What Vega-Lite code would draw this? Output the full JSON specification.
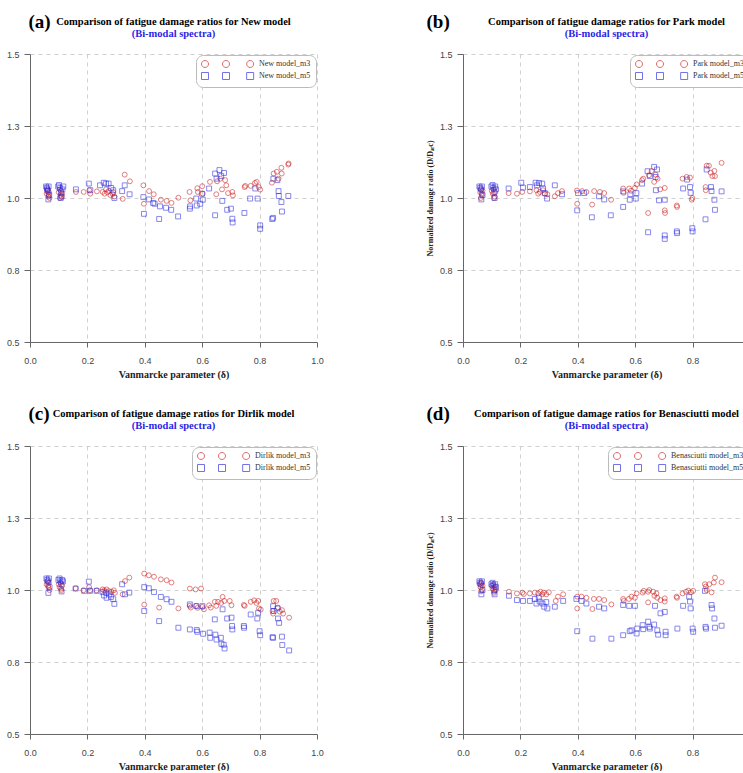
{
  "$schema": "https://vega.github.io/schema/vega-lite/v6.json",
  "background": "white",
  "padding": {"left": 6, "top": 13, "right": 0, "bottom": 0},
  "datasets": {
    "a": [
      {"x":0.058,"y":1.015,"s":"m3"},{"x":0.061,"y":1.025,"s":"m3"},{"x":0.064,"y":1.005,"s":"m3"},{"x":0.066,"y":1.02,"s":"m3"},{"x":0.068,"y":1.0,"s":"m3"},{"x":0.062,"y":1.03,"s":"m3"},{"x":0.065,"y":1.012,"s":"m3"},
      {"x":0.1,"y":1.02,"s":"m3"},{"x":0.103,"y":1.03,"s":"m3"},{"x":0.106,"y":1.01,"s":"m3"},{"x":0.108,"y":1.025,"s":"m3"},{"x":0.11,"y":1.005,"s":"m3"},{"x":0.112,"y":1.015,"s":"m3"},{"x":0.104,"y":1.0,"s":"m3"},
      {"x":0.16,"y":1.021,"s":"m3"},{"x":0.187,"y":1.021,"s":"m3"},{"x":0.207,"y":1.027,"s":"m3"},{"x":0.21,"y":1.015,"s":"m3"},{"x":0.233,"y":1.023,"s":"m3"},{"x":0.253,"y":1.021,"s":"m3"},{"x":0.26,"y":1.015,"s":"m3"},{"x":0.265,"y":1.03,"s":"m3"},{"x":0.27,"y":1.02,"s":"m3"},{"x":0.275,"y":1.025,"s":"m3"},{"x":0.28,"y":1.01,"s":"m3"},{"x":0.288,"y":1.014,"s":"m3"},{"x":0.29,"y":1.02,"s":"m3"},{"x":0.294,"y":1.005,"s":"m3"},
      {"x":0.323,"y":0.997,"s":"m3"},{"x":0.33,"y":1.081,"s":"m3"},{"x":0.348,"y":1.058,"s":"m3"},{"x":0.395,"y":1.044,"s":"m3"},{"x":0.397,"y":0.98,"s":"m3"},{"x":0.415,"y":1.024,"s":"m3"},{"x":0.431,"y":1.013,"s":"m3"},{"x":0.456,"y":0.994,"s":"m3"},{"x":0.476,"y":0.99,"s":"m3"},{"x":0.493,"y":0.983,"s":"m3"},{"x":0.517,"y":1.001,"s":"m3"},
      {"x":0.556,"y":1.021,"s":"m3"},{"x":0.559,"y":0.992,"s":"m3"},{"x":0.583,"y":1.034,"s":"m3"},{"x":0.585,"y":1.021,"s":"m3"},{"x":0.6,"y":1.041,"s":"m3"},{"x":0.602,"y":1.015,"s":"m3"},{"x":0.627,"y":1.056,"s":"m3"},{"x":0.649,"y":1.013,"s":"m3"},{"x":0.652,"y":1.058,"s":"m3"},{"x":0.663,"y":1.067,"s":"m3"},{"x":0.669,"y":1.03,"s":"m3"},{"x":0.68,"y":1.062,"s":"m3"},{"x":0.684,"y":1.044,"s":"m3"},{"x":0.69,"y":1.017,"s":"m3"},{"x":0.705,"y":1.021,"s":"m3"},{"x":0.707,"y":1.009,"s":"m3"},
      {"x":0.748,"y":1.038,"s":"m3"},{"x":0.75,"y":1.042,"s":"m3"},{"x":0.769,"y":1.042,"s":"m3"},{"x":0.784,"y":1.052,"s":"m3"},{"x":0.79,"y":1.056,"s":"m3"},{"x":0.797,"y":1.038,"s":"m3"},{"x":0.802,"y":1.029,"s":"m3"},{"x":0.843,"y":1.053,"s":"m3"},{"x":0.849,"y":1.085,"s":"m3"},{"x":0.86,"y":1.091,"s":"m3"},{"x":0.866,"y":1.067,"s":"m3"},{"x":0.876,"y":1.105,"s":"m3"},{"x":0.877,"y":1.085,"s":"m3"},{"x":0.9,"y":1.116,"s":"m3"},{"x":0.901,"y":1.12,"s":"m3"},
      {"x":0.056,"y":1.04,"s":"m5"},{"x":0.059,"y":1.035,"s":"m5"},{"x":0.062,"y":1.025,"s":"m5"},{"x":0.065,"y":1.04,"s":"m5"},{"x":0.067,"y":1.01,"s":"m5"},{"x":0.064,"y":0.995,"s":"m5"},{"x":0.06,"y":1.03,"s":"m5"},
      {"x":0.098,"y":1.04,"s":"m5"},{"x":0.101,"y":1.045,"s":"m5"},{"x":0.105,"y":1.035,"s":"m5"},{"x":0.108,"y":1.02,"s":"m5"},{"x":0.11,"y":1.005,"s":"m5"},{"x":0.113,"y":1.03,"s":"m5"},{"x":0.116,"y":1.04,"s":"m5"},{"x":0.107,"y":1.0,"s":"m5"},
      {"x":0.16,"y":1.03,"s":"m5"},{"x":0.205,"y":1.05,"s":"m5"},{"x":0.21,"y":1.027,"s":"m5"},{"x":0.244,"y":1.044,"s":"m5"},{"x":0.257,"y":1.053,"s":"m5"},{"x":0.265,"y":1.05,"s":"m5"},{"x":0.274,"y":1.05,"s":"m5"},{"x":0.283,"y":1.035,"s":"m5"},{"x":0.29,"y":1.027,"s":"m5"},{"x":0.294,"y":1.0,"s":"m5"},
      {"x":0.321,"y":1.024,"s":"m5"},{"x":0.33,"y":1.044,"s":"m5"},{"x":0.347,"y":1.013,"s":"m5"},{"x":0.395,"y":1.003,"s":"m5"},{"x":0.397,"y":0.945,"s":"m5"},{"x":0.415,"y":0.995,"s":"m5"},{"x":0.429,"y":0.983,"s":"m5"},{"x":0.434,"y":0.98,"s":"m5"},{"x":0.45,"y":0.927,"s":"m5"},{"x":0.453,"y":0.971,"s":"m5"},{"x":0.474,"y":0.966,"s":"m5"},{"x":0.492,"y":0.959,"s":"m5"},{"x":0.516,"y":0.936,"s":"m5"},
      {"x":0.557,"y":0.963,"s":"m5"},{"x":0.558,"y":0.971,"s":"m5"},{"x":0.579,"y":0.998,"s":"m5"},{"x":0.581,"y":0.974,"s":"m5"},{"x":0.593,"y":0.98,"s":"m5"},{"x":0.599,"y":1.015,"s":"m5"},{"x":0.602,"y":0.994,"s":"m5"},{"x":0.624,"y":1.033,"s":"m5"},{"x":0.645,"y":1.085,"s":"m5"},{"x":0.645,"y":0.94,"s":"m5"},{"x":0.65,"y":1.067,"s":"m5"},{"x":0.66,"y":1.097,"s":"m5"},{"x":0.666,"y":1.076,"s":"m5"},{"x":0.67,"y":0.99,"s":"m5"},{"x":0.676,"y":1.087,"s":"m5"},{"x":0.687,"y":0.959,"s":"m5"},{"x":0.7,"y":0.963,"s":"m5"},{"x":0.705,"y":0.928,"s":"m5"},{"x":0.706,"y":0.915,"s":"m5"},
      {"x":0.747,"y":0.948,"s":"m5"},{"x":0.767,"y":0.998,"s":"m5"},{"x":0.785,"y":1.033,"s":"m5"},{"x":0.793,"y":0.998,"s":"m5"},{"x":0.802,"y":0.905,"s":"m5"},{"x":0.802,"y":0.893,"s":"m5"},{"x":0.844,"y":0.927,"s":"m5"},{"x":0.847,"y":0.931,"s":"m5"},{"x":0.848,"y":1.067,"s":"m5"},{"x":0.862,"y":1.062,"s":"m5"},{"x":0.866,"y":1.024,"s":"m5"},{"x":0.867,"y":1.007,"s":"m5"},{"x":0.876,"y":0.986,"s":"m5"},{"x":0.878,"y":0.953,"s":"m5"},{"x":0.9,"y":1.007,"s":"m5"}
    ],
    "b": [
      {"x":0.06,"y":1.02,"s":"m3"},{"x":0.063,"y":1.03,"s":"m3"},{"x":0.066,"y":1.01,"s":"m3"},{"x":0.068,"y":1.025,"s":"m3"},{"x":0.062,"y":1.0,"s":"m3"},{"x":0.065,"y":1.015,"s":"m3"},
      {"x":0.1,"y":1.025,"s":"m3"},{"x":0.104,"y":1.015,"s":"m3"},{"x":0.107,"y":1.03,"s":"m3"},{"x":0.11,"y":1.005,"s":"m3"},{"x":0.112,"y":1.02,"s":"m3"},{"x":0.108,"y":1.0,"s":"m3"},
      {"x":0.159,"y":1.017,"s":"m3"},{"x":0.188,"y":1.015,"s":"m3"},{"x":0.206,"y":1.021,"s":"m3"},{"x":0.233,"y":1.023,"s":"m3"},{"x":0.256,"y":1.027,"s":"m3"},{"x":0.262,"y":1.015,"s":"m3"},{"x":0.268,"y":1.021,"s":"m3"},{"x":0.279,"y":1.027,"s":"m3"},{"x":0.285,"y":1.015,"s":"m3"},{"x":0.294,"y":1.013,"s":"m3"},
      {"x":0.32,"y":1.006,"s":"m3"},{"x":0.331,"y":1.017,"s":"m3"},{"x":0.345,"y":1.024,"s":"m3"},{"x":0.397,"y":1.026,"s":"m3"},{"x":0.398,"y":0.98,"s":"m3"},{"x":0.415,"y":1.024,"s":"m3"},{"x":0.43,"y":1.021,"s":"m3"},{"x":0.45,"y":0.977,"s":"m3"},{"x":0.457,"y":1.024,"s":"m3"},{"x":0.477,"y":1.021,"s":"m3"},{"x":0.492,"y":1.017,"s":"m3"},{"x":0.516,"y":0.994,"s":"m3"},
      {"x":0.558,"y":1.033,"s":"m3"},{"x":0.56,"y":1.018,"s":"m3"},{"x":0.579,"y":1.033,"s":"m3"},{"x":0.585,"y":1.025,"s":"m3"},{"x":0.599,"y":1.035,"s":"m3"},{"x":0.605,"y":1.047,"s":"m3"},{"x":0.624,"y":1.062,"s":"m3"},{"x":0.628,"y":1.067,"s":"m3"},{"x":0.645,"y":0.948,"s":"m3"},{"x":0.648,"y":1.079,"s":"m3"},{"x":0.657,"y":1.094,"s":"m3"},{"x":0.666,"y":1.056,"s":"m3"},{"x":0.671,"y":1.081,"s":"m3"},{"x":0.678,"y":1.067,"s":"m3"},{"x":0.687,"y":1.03,"s":"m3"},{"x":0.703,"y":1.035,"s":"m3"},{"x":0.703,"y":0.957,"s":"m3"},{"x":0.704,"y":0.948,"s":"m3"},
      {"x":0.745,"y":0.974,"s":"m3"},{"x":0.746,"y":0.969,"s":"m3"},{"x":0.765,"y":1.067,"s":"m3"},{"x":0.779,"y":1.073,"s":"m3"},{"x":0.791,"y":1.071,"s":"m3"},{"x":0.797,"y":0.994,"s":"m3"},{"x":0.799,"y":1.0,"s":"m3"},{"x":0.845,"y":1.038,"s":"m3"},{"x":0.846,"y":1.027,"s":"m3"},{"x":0.849,"y":1.112,"s":"m3"},{"x":0.857,"y":1.112,"s":"m3"},{"x":0.863,"y":1.088,"s":"m3"},{"x":0.869,"y":1.076,"s":"m3"},{"x":0.876,"y":1.094,"s":"m3"},{"x":0.878,"y":1.076,"s":"m3"},{"x":0.901,"y":1.122,"s":"m3"},
      {"x":0.057,"y":1.04,"s":"m5"},{"x":0.06,"y":1.035,"s":"m5"},{"x":0.063,"y":1.03,"s":"m5"},{"x":0.066,"y":1.04,"s":"m5"},{"x":0.068,"y":1.01,"s":"m5"},{"x":0.064,"y":0.995,"s":"m5"},
      {"x":0.099,"y":1.04,"s":"m5"},{"x":0.103,"y":1.045,"s":"m5"},{"x":0.106,"y":1.035,"s":"m5"},{"x":0.109,"y":1.02,"s":"m5"},{"x":0.112,"y":1.04,"s":"m5"},{"x":0.11,"y":1.0,"s":"m5"},{"x":0.115,"y":1.03,"s":"m5"},
      {"x":0.159,"y":1.033,"s":"m5"},{"x":0.203,"y":1.053,"s":"m5"},{"x":0.209,"y":1.036,"s":"m5"},{"x":0.233,"y":1.038,"s":"m5"},{"x":0.253,"y":1.053,"s":"m5"},{"x":0.258,"y":1.044,"s":"m5"},{"x":0.265,"y":1.052,"s":"m5"},{"x":0.276,"y":1.05,"s":"m5"},{"x":0.279,"y":1.033,"s":"m5"},{"x":0.285,"y":1.017,"s":"m5"},{"x":0.293,"y":0.998,"s":"m5"},
      {"x":0.32,"y":1.044,"s":"m5"},{"x":0.345,"y":1.013,"s":"m5"},{"x":0.398,"y":0.957,"s":"m5"},{"x":0.401,"y":1.017,"s":"m5"},{"x":0.422,"y":1.017,"s":"m5"},{"x":0.449,"y":0.933,"s":"m5"},{"x":0.474,"y":1.006,"s":"m5"},{"x":0.492,"y":0.995,"s":"m5"},{"x":0.515,"y":0.94,"s":"m5"},
      {"x":0.558,"y":0.969,"s":"m5"},{"x":0.558,"y":1.023,"s":"m5"},{"x":0.581,"y":0.994,"s":"m5"},{"x":0.583,"y":1.013,"s":"m5"},{"x":0.602,"y":0.998,"s":"m5"},{"x":0.604,"y":1.017,"s":"m5"},{"x":0.624,"y":1.05,"s":"m5"},{"x":0.643,"y":1.093,"s":"m5"},{"x":0.645,"y":0.881,"s":"m5"},{"x":0.651,"y":1.076,"s":"m5"},{"x":0.666,"y":1.108,"s":"m5"},{"x":0.671,"y":1.073,"s":"m5"},{"x":0.676,"y":1.099,"s":"m5"},{"x":0.672,"y":1.027,"s":"m5"},{"x":0.683,"y":0.992,"s":"m5"},{"x":0.703,"y":0.87,"s":"m5"},{"x":0.703,"y":0.858,"s":"m5"},{"x":0.703,"y":0.994,"s":"m5"},
      {"x":0.745,"y":0.884,"s":"m5"},{"x":0.746,"y":0.878,"s":"m5"},{"x":0.767,"y":1.033,"s":"m5"},{"x":0.781,"y":1.064,"s":"m5"},{"x":0.791,"y":1.038,"s":"m5"},{"x":0.793,"y":1.018,"s":"m5"},{"x":0.799,"y":0.895,"s":"m5"},{"x":0.8,"y":0.884,"s":"m5"},{"x":0.845,"y":0.926,"s":"m5"},{"x":0.849,"y":1.099,"s":"m5"},{"x":0.864,"y":1.038,"s":"m5"},{"x":0.866,"y":1.024,"s":"m5"},{"x":0.876,"y":0.994,"s":"m5"},{"x":0.878,"y":0.959,"s":"m5"},{"x":0.901,"y":1.023,"s":"m5"}
    ],
    "c": [
      {"x":0.058,"y":1.02,"s":"m3"},{"x":0.061,"y":1.03,"s":"m3"},{"x":0.064,"y":1.01,"s":"m3"},{"x":0.066,"y":1.025,"s":"m3"},{"x":0.068,"y":1.0,"s":"m3"},{"x":0.063,"y":1.015,"s":"m3"},
      {"x":0.1,"y":1.02,"s":"m3"},{"x":0.103,"y":1.01,"s":"m3"},{"x":0.106,"y":1.025,"s":"m3"},{"x":0.109,"y":1.0,"s":"m3"},{"x":0.112,"y":1.015,"s":"m3"},{"x":0.108,"y":1.005,"s":"m3"},
      {"x":0.159,"y":1.006,"s":"m3"},{"x":0.186,"y":0.999,"s":"m3"},{"x":0.206,"y":1.01,"s":"m3"},{"x":0.209,"y":0.999,"s":"m3"},{"x":0.232,"y":0.999,"s":"m3"},{"x":0.253,"y":1.002,"s":"m3"},{"x":0.259,"y":0.999,"s":"m3"},{"x":0.267,"y":1.002,"s":"m3"},{"x":0.275,"y":0.996,"s":"m3"},{"x":0.284,"y":0.994,"s":"m3"},{"x":0.292,"y":0.999,"s":"m3"},{"x":0.296,"y":0.99,"s":"m3"},
      {"x":0.323,"y":0.985,"s":"m3"},{"x":0.331,"y":1.031,"s":"m3"},{"x":0.346,"y":1.043,"s":"m3"},{"x":0.398,"y":1.057,"s":"m3"},{"x":0.398,"y":0.949,"s":"m3"},{"x":0.414,"y":1.051,"s":"m3"},{"x":0.432,"y":1.046,"s":"m3"},{"x":0.45,"y":0.939,"s":"m3"},{"x":0.456,"y":1.037,"s":"m3"},{"x":0.476,"y":1.034,"s":"m3"},{"x":0.493,"y":1.026,"s":"m3"},{"x":0.517,"y":0.936,"s":"m3"},
      {"x":0.557,"y":1.005,"s":"m3"},{"x":0.557,"y":0.945,"s":"m3"},{"x":0.56,"y":0.939,"s":"m3"},{"x":0.577,"y":1.002,"s":"m3"},{"x":0.579,"y":0.945,"s":"m3"},{"x":0.584,"y":0.938,"s":"m3"},{"x":0.596,"y":1.005,"s":"m3"},{"x":0.601,"y":0.941,"s":"m3"},{"x":0.606,"y":0.933,"s":"m3"},{"x":0.624,"y":0.947,"s":"m3"},{"x":0.63,"y":0.939,"s":"m3"},{"x":0.644,"y":0.959,"s":"m3"},{"x":0.649,"y":0.945,"s":"m3"},{"x":0.655,"y":0.959,"s":"m3"},{"x":0.666,"y":0.955,"s":"m3"},{"x":0.671,"y":0.976,"s":"m3"},{"x":0.677,"y":0.962,"s":"m3"},{"x":0.696,"y":0.962,"s":"m3"},{"x":0.702,"y":0.947,"s":"m3"},
      {"x":0.745,"y":0.948,"s":"m3"},{"x":0.748,"y":0.945,"s":"m3"},{"x":0.769,"y":0.959,"s":"m3"},{"x":0.781,"y":0.964,"s":"m3"},{"x":0.789,"y":0.955,"s":"m3"},{"x":0.795,"y":0.962,"s":"m3"},{"x":0.798,"y":0.936,"s":"m3"},{"x":0.804,"y":0.932,"s":"m3"},{"x":0.845,"y":0.927,"s":"m3"},{"x":0.847,"y":0.918,"s":"m3"},{"x":0.849,"y":0.962,"s":"m3"},{"x":0.858,"y":0.962,"s":"m3"},{"x":0.864,"y":0.939,"s":"m3"},{"x":0.87,"y":0.925,"s":"m3"},{"x":0.878,"y":0.93,"s":"m3"},{"x":0.882,"y":0.918,"s":"m3"},{"x":0.903,"y":0.904,"s":"m3"},
      {"x":0.057,"y":1.04,"s":"m5"},{"x":0.06,"y":1.035,"s":"m5"},{"x":0.063,"y":1.03,"s":"m5"},{"x":0.066,"y":1.04,"s":"m5"},{"x":0.068,"y":1.01,"s":"m5"},{"x":0.064,"y":0.99,"s":"m5"},
      {"x":0.099,"y":1.035,"s":"m5"},{"x":0.103,"y":1.04,"s":"m5"},{"x":0.106,"y":1.03,"s":"m5"},{"x":0.109,"y":1.02,"s":"m5"},{"x":0.112,"y":1.035,"s":"m5"},{"x":0.11,"y":0.995,"s":"m5"},{"x":0.115,"y":1.03,"s":"m5"},
      {"x":0.159,"y":1.005,"s":"m5"},{"x":0.189,"y":0.997,"s":"m5"},{"x":0.205,"y":1.029,"s":"m5"},{"x":0.209,"y":0.997,"s":"m5"},{"x":0.232,"y":0.997,"s":"m5"},{"x":0.253,"y":0.993,"s":"m5"},{"x":0.258,"y":0.981,"s":"m5"},{"x":0.265,"y":0.991,"s":"m5"},{"x":0.267,"y":0.973,"s":"m5"},{"x":0.276,"y":0.985,"s":"m5"},{"x":0.282,"y":0.976,"s":"m5"},{"x":0.29,"y":0.968,"s":"m5"},{"x":0.294,"y":0.952,"s":"m5"},
      {"x":0.321,"y":1.02,"s":"m5"},{"x":0.331,"y":0.985,"s":"m5"},{"x":0.346,"y":0.991,"s":"m5"},{"x":0.398,"y":1.01,"s":"m5"},{"x":0.398,"y":0.927,"s":"m5"},{"x":0.414,"y":1.006,"s":"m5"},{"x":0.432,"y":0.993,"s":"m5"},{"x":0.45,"y":0.892,"s":"m5"},{"x":0.456,"y":0.976,"s":"m5"},{"x":0.476,"y":0.968,"s":"m5"},{"x":0.493,"y":0.959,"s":"m5"},{"x":0.517,"y":0.869,"s":"m5"},
      {"x":0.557,"y":0.95,"s":"m5"},{"x":0.557,"y":0.863,"s":"m5"},{"x":0.58,"y":0.944,"s":"m5"},{"x":0.581,"y":0.861,"s":"m5"},{"x":0.583,"y":0.855,"s":"m5"},{"x":0.601,"y":0.944,"s":"m5"},{"x":0.603,"y":0.848,"s":"m5"},{"x":0.626,"y":0.852,"s":"m5"},{"x":0.628,"y":0.834,"s":"m5"},{"x":0.644,"y":0.898,"s":"m5"},{"x":0.646,"y":0.845,"s":"m5"},{"x":0.65,"y":0.828,"s":"m5"},{"x":0.665,"y":0.834,"s":"m5"},{"x":0.667,"y":0.813,"s":"m5"},{"x":0.671,"y":0.933,"s":"m5"},{"x":0.675,"y":0.81,"s":"m5"},{"x":0.678,"y":0.797,"s":"m5"},{"x":0.687,"y":0.901,"s":"m5"},{"x":0.702,"y":0.904,"s":"m5"},{"x":0.704,"y":0.875,"s":"m5"},{"x":0.705,"y":0.863,"s":"m5"},
      {"x":0.745,"y":0.875,"s":"m5"},{"x":0.746,"y":0.869,"s":"m5"},{"x":0.769,"y":0.915,"s":"m5"},{"x":0.792,"y":0.901,"s":"m5"},{"x":0.795,"y":0.921,"s":"m5"},{"x":0.8,"y":0.857,"s":"m5"},{"x":0.802,"y":0.843,"s":"m5"},{"x":0.845,"y":0.836,"s":"m5"},{"x":0.847,"y":0.834,"s":"m5"},{"x":0.847,"y":0.944,"s":"m5"},{"x":0.849,"y":0.927,"s":"m5"},{"x":0.862,"y":0.936,"s":"m5"},{"x":0.864,"y":0.901,"s":"m5"},{"x":0.868,"y":0.886,"s":"m5"},{"x":0.878,"y":0.838,"s":"m5"},{"x":0.879,"y":0.809,"s":"m5"},{"x":0.903,"y":0.79,"s":"m5"}
    ],
    "d": [
      {"x":0.058,"y":1.02,"s":"m3"},{"x":0.061,"y":1.01,"s":"m3"},{"x":0.064,"y":1.025,"s":"m3"},{"x":0.066,"y":1.0,"s":"m3"},{"x":0.068,"y":1.015,"s":"m3"},{"x":0.063,"y":0.995,"s":"m3"},
      {"x":0.1,"y":1.015,"s":"m3"},{"x":0.103,"y":1.005,"s":"m3"},{"x":0.106,"y":1.02,"s":"m3"},{"x":0.109,"y":0.995,"s":"m3"},{"x":0.112,"y":1.01,"s":"m3"},{"x":0.108,"y":0.99,"s":"m3"},{"x":0.114,"y":1.0,"s":"m3"},
      {"x":0.16,"y":0.994,"s":"m3"},{"x":0.188,"y":0.988,"s":"m3"},{"x":0.207,"y":0.991,"s":"m3"},{"x":0.212,"y":0.986,"s":"m3"},{"x":0.233,"y":0.988,"s":"m3"},{"x":0.25,"y":0.991,"s":"m3"},{"x":0.262,"y":0.988,"s":"m3"},{"x":0.27,"y":0.994,"s":"m3"},{"x":0.276,"y":0.985,"s":"m3"},{"x":0.281,"y":0.991,"s":"m3"},{"x":0.29,"y":0.985,"s":"m3"},{"x":0.299,"y":0.992,"s":"m3"},
      {"x":0.323,"y":0.962,"s":"m3"},{"x":0.331,"y":0.977,"s":"m3"},{"x":0.349,"y":0.985,"s":"m3"},{"x":0.398,"y":0.977,"s":"m3"},{"x":0.398,"y":0.936,"s":"m3"},{"x":0.413,"y":0.977,"s":"m3"},{"x":0.43,"y":0.973,"s":"m3"},{"x":0.451,"y":0.934,"s":"m3"},{"x":0.456,"y":0.969,"s":"m3"},{"x":0.474,"y":0.969,"s":"m3"},{"x":0.492,"y":0.965,"s":"m3"},{"x":0.517,"y":0.95,"s":"m3"},
      {"x":0.558,"y":0.969,"s":"m3"},{"x":0.56,"y":0.962,"s":"m3"},{"x":0.578,"y":0.969,"s":"m3"},{"x":0.587,"y":0.977,"s":"m3"},{"x":0.599,"y":0.973,"s":"m3"},{"x":0.605,"y":0.988,"s":"m3"},{"x":0.626,"y":0.991,"s":"m3"},{"x":0.63,"y":0.997,"s":"m3"},{"x":0.645,"y":0.994,"s":"m3"},{"x":0.645,"y":0.957,"s":"m3"},{"x":0.649,"y":1.0,"s":"m3"},{"x":0.663,"y":0.994,"s":"m3"},{"x":0.667,"y":0.98,"s":"m3"},{"x":0.674,"y":0.988,"s":"m3"},{"x":0.677,"y":0.973,"s":"m3"},{"x":0.688,"y":0.965,"s":"m3"},{"x":0.703,"y":0.971,"s":"m3"},{"x":0.703,"y":0.96,"s":"m3"},
      {"x":0.744,"y":0.977,"s":"m3"},{"x":0.746,"y":0.973,"s":"m3"},{"x":0.765,"y":0.988,"s":"m3"},{"x":0.777,"y":0.994,"s":"m3"},{"x":0.785,"y":0.998,"s":"m3"},{"x":0.794,"y":0.992,"s":"m3"},{"x":0.802,"y":0.997,"s":"m3"},{"x":0.843,"y":1.02,"s":"m3"},{"x":0.846,"y":1.012,"s":"m3"},{"x":0.849,"y":1.0,"s":"m3"},{"x":0.858,"y":1.02,"s":"m3"},{"x":0.866,"y":0.992,"s":"m3"},{"x":0.874,"y":1.026,"s":"m3"},{"x":0.878,"y":1.043,"s":"m3"},{"x":0.901,"y":1.027,"s":"m3"},
      {"x":0.057,"y":1.03,"s":"m5"},{"x":0.06,"y":1.025,"s":"m5"},{"x":0.063,"y":1.02,"s":"m5"},{"x":0.066,"y":1.03,"s":"m5"},{"x":0.068,"y":1.0,"s":"m5"},{"x":0.064,"y":0.985,"s":"m5"},
      {"x":0.099,"y":1.02,"s":"m5"},{"x":0.103,"y":1.025,"s":"m5"},{"x":0.106,"y":1.015,"s":"m5"},{"x":0.109,"y":1.0,"s":"m5"},{"x":0.112,"y":1.02,"s":"m5"},{"x":0.11,"y":0.985,"s":"m5"},{"x":0.115,"y":1.01,"s":"m5"},
      {"x":0.16,"y":0.98,"s":"m5"},{"x":0.188,"y":0.965,"s":"m5"},{"x":0.209,"y":0.962,"s":"m5"},{"x":0.233,"y":0.962,"s":"m5"},{"x":0.25,"y":0.969,"s":"m5"},{"x":0.256,"y":0.953,"s":"m5"},{"x":0.264,"y":0.974,"s":"m5"},{"x":0.267,"y":0.96,"s":"m5"},{"x":0.277,"y":0.953,"s":"m5"},{"x":0.283,"y":0.942,"s":"m5"},{"x":0.29,"y":0.958,"s":"m5"},{"x":0.294,"y":0.936,"s":"m5"},
      {"x":0.32,"y":0.942,"s":"m5"},{"x":0.349,"y":0.962,"s":"m5"},{"x":0.395,"y":0.969,"s":"m5"},{"x":0.398,"y":0.857,"s":"m5"},{"x":0.413,"y":0.962,"s":"m5"},{"x":0.43,"y":0.953,"s":"m5"},{"x":0.451,"y":0.831,"s":"m5"},{"x":0.474,"y":0.942,"s":"m5"},{"x":0.492,"y":0.936,"s":"m5"},{"x":0.517,"y":0.831,"s":"m5"},
      {"x":0.558,"y":0.948,"s":"m5"},{"x":0.558,"y":0.843,"s":"m5"},{"x":0.579,"y":0.945,"s":"m5"},{"x":0.581,"y":0.857,"s":"m5"},{"x":0.587,"y":0.86,"s":"m5"},{"x":0.599,"y":0.945,"s":"m5"},{"x":0.605,"y":0.849,"s":"m5"},{"x":0.607,"y":0.866,"s":"m5"},{"x":0.626,"y":0.878,"s":"m5"},{"x":0.628,"y":0.864,"s":"m5"},{"x":0.645,"y":0.89,"s":"m5"},{"x":0.649,"y":0.872,"s":"m5"},{"x":0.651,"y":0.866,"s":"m5"},{"x":0.666,"y":0.88,"s":"m5"},{"x":0.669,"y":0.945,"s":"m5"},{"x":0.677,"y":0.86,"s":"m5"},{"x":0.68,"y":0.845,"s":"m5"},{"x":0.688,"y":0.919,"s":"m5"},{"x":0.703,"y":0.924,"s":"m5"},{"x":0.706,"y":0.855,"s":"m5"},{"x":0.706,"y":0.843,"s":"m5"},
      {"x":0.747,"y":0.866,"s":"m5"},{"x":0.767,"y":0.945,"s":"m5"},{"x":0.788,"y":0.977,"s":"m5"},{"x":0.791,"y":0.96,"s":"m5"},{"x":0.793,"y":0.936,"s":"m5"},{"x":0.8,"y":0.866,"s":"m5"},{"x":0.802,"y":0.855,"s":"m5"},{"x":0.843,"y":0.997,"s":"m5"},{"x":0.845,"y":0.872,"s":"m5"},{"x":0.847,"y":0.866,"s":"m5"},{"x":0.866,"y":0.948,"s":"m5"},{"x":0.868,"y":0.936,"s":"m5"},{"x":0.876,"y":0.901,"s":"m5"},{"x":0.878,"y":0.869,"s":"m5"},{"x":0.901,"y":0.876,"s":"m5"}
    ]
  },
  "vconcat": [
    {
      "hconcat": [
        {
          "title": {"text": "(a)", "anchor": "start", "font": "Liberation Serif", "fontSize": 19, "fontWeight": "bold", "color": "#000", "offset": -15, "dx": 22},
          "vconcat": [
            {
              "title": {"text": "Comparison of fatigue damage ratios for New model", "subtitle": "(Bi-modal spectra)", "anchor": "middle", "frame": "group", "font": "Liberation Serif", "fontSize": 10.5, "fontWeight": "bold", "color": "#000", "subtitleFont": "Liberation Serif", "subtitleFontSize": 10.5, "subtitleFontWeight": "bold", "subtitleColor": "#2b1fe6", "subtitlePadding": 1, "offset": 11},
              "width": 287, "height": 288,
              "data": {"name": "a"},
              "layer": [
                {
                  "mark": {"type": "point", "filled": false, "strokeWidth": 0.9, "opacity": 0.6, "size": 24},
                  "encoding": {
                    "x": {"field": "x", "type": "quantitative", "scale": {"domain": [0, 1], "nice": false, "zero": false},
                      "axis": {"values": [0,0.1,0.2,0.3,0.4,0.5,0.6,0.7,0.8,0.9,1], "labelExpr": "round(datum.value*10)%2==0 ? format(datum.value,'.1f') : ''", "tickSize": {"condition": {"test": "round(datum.value*10)%2==1", "value": 3}, "value": 5}, "grid": true, "gridOpacity": {"condition": {"test": "round(datum.value*10)%2==1", "value": 0}, "value": 1}, "labelPadding": 9, "labelFlush": false, "labelOverlap": false, "title": "Vanmarcke parameter (δ)", "titleFontSize": 10, "titlePadding": 4}},
                    "y": {"field": "y", "type": "quantitative", "scale": {"domain": [0.5, 1.5], "nice": false, "zero": false},
                      "axis": {"values": [0.5,0.625,0.75,0.875,1,1.125,1.25,1.375,1.5], "labelExpr": "round(datum.value*8)%2==0 ? format(datum.value,'.1f') : ''", "tickSize": {"condition": {"test": "round(datum.value*8)%2==1", "value": 3}, "value": 6}, "grid": true, "gridOpacity": {"condition": {"test": "round(datum.value*8)%2==1", "value": 0}, "value": 1}, "labelPadding": 5, "labelFlush": false, "labelOverlap": false, "title": null}},
                    "color": {"field": "s", "type": "nominal", "scale": {"domain": ["m3", "m5"], "range": ["#cc1111", "#2222dd"]}, "legend": null},
                    "shape": {"field": "s", "type": "nominal", "scale": {"domain": ["m3", "m5"], "range": ["circle", "square"]}, "legend": null}
                  }
                },
                {
                  "transform": [{"filter": "datum.x < 0"}],
                  "mark": {"type": "point", "filled": false, "strokeWidth": 0.9, "opacity": 0.7},
                  "encoding": {
                    "x": {"field": "x", "type": "quantitative"},
                    "y": {"field": "y", "type": "quantitative"},
                    "color": {"field": "s", "type": "nominal", "scale": {"domain": ["m3", "m5"], "range": ["#cc1111", "#2222dd"]},
                      "legend": {"title": null, "orient": "top-right", "offset": 1, "labelExpr": "'New model_' + datum.label", "symbolSize": 49, "symbolStrokeWidth": 0.9, "symbolOpacity": 0.7, "labelOffset": 50, "labelFont": "Liberation Serif", "labelFontSize": 8, "labelColor": "#333", "padding": 5, "rowPadding": 0, "strokeColor": "#bbbbbb", "cornerRadius": 7, "fillColor": "white"}},
                    "shape": {"field": "s", "type": "nominal", "scale": {"domain": ["m3", "m5"], "range": ["M-1,0A1,1,0,1,1,1,0A1,1,0,1,1,-1,0M5,0A1,1,0,1,1,7,0A1,1,0,1,1,5,0M11.9,0A1,1,0,1,1,13.9,0A1,1,0,1,1,11.9,0", "M-1,-1H1V1H-1ZM5,-1H7V1H5ZM11.9,-1H13.9V1H11.9Z"]},
                      "legend": {"title": null, "orient": "top-right", "offset": 1, "labelExpr": "'New model_' + datum.label", "symbolSize": 49, "symbolStrokeWidth": 0.9, "symbolOpacity": 0.7, "labelOffset": 50, "labelFont": "Liberation Serif", "labelFontSize": 8, "labelColor": "#333", "padding": 5, "rowPadding": 0, "strokeColor": "#bbbbbb", "cornerRadius": 7, "fillColor": "white"}}
                  }
                }
              ],
              "resolve": {"scale": {"color": "independent", "shape": "independent"}}
            }
          ]
        },
        {
          "title": {"text": "(b)", "anchor": "start", "font": "Liberation Serif", "fontSize": 19, "fontWeight": "bold", "color": "#000", "offset": -15},
          "vconcat": [
            {
              "title": {"text": "Comparison of fatigue damage ratios for Park model", "subtitle": "(Bi-modal spectra)", "anchor": "middle", "frame": "group", "font": "Liberation Serif", "fontSize": 10.5, "fontWeight": "bold", "color": "#000", "subtitleFont": "Liberation Serif", "subtitleFontSize": 10.5, "subtitleFontWeight": "bold", "subtitleColor": "#2b1fe6", "subtitlePadding": 1, "offset": 11},
              "width": 287, "height": 288,
              "data": {"name": "b"},
              "layer": [
                {
                  "mark": {"type": "point", "filled": false, "strokeWidth": 0.9, "opacity": 0.6, "size": 24},
                  "encoding": {
                    "x": {"field": "x", "type": "quantitative", "scale": {"domain": [0, 1], "nice": false, "zero": false},
                      "axis": {"values": [0,0.1,0.2,0.3,0.4,0.5,0.6,0.7,0.8,0.9,1], "labelExpr": "round(datum.value*10)%2==0 && datum.value < 0.95 ? format(datum.value,'.1f') : ''", "tickSize": {"condition": {"test": "round(datum.value*10)%2==1", "value": 3}, "value": 5}, "grid": true, "gridOpacity": {"condition": {"test": "round(datum.value*10)%2==1", "value": 0}, "value": 1}, "labelPadding": 9, "labelFlush": false, "labelOverlap": false, "title": "Vanmarcke parameter (δ)", "titleFontSize": 10, "titlePadding": 4}},
                    "y": {"field": "y", "type": "quantitative", "scale": {"domain": [0.5, 1.5], "nice": false, "zero": false},
                      "axis": {"values": [0.5,0.625,0.75,0.875,1,1.125,1.25,1.375,1.5], "labelExpr": "round(datum.value*8)%2==0 ? format(datum.value,'.1f') : ''", "tickSize": {"condition": {"test": "round(datum.value*8)%2==1", "value": 3}, "value": 6}, "grid": true, "gridOpacity": {"condition": {"test": "round(datum.value*8)%2==1", "value": 0}, "value": 1}, "labelPadding": 5, "labelFlush": false, "labelOverlap": false, "title": "Normalized damage ratio (D/Dₐᵣc)", "titleFontSize": 8, "titlePadding": 5}},
                    "color": {"field": "s", "type": "nominal", "scale": {"domain": ["m3", "m5"], "range": ["#cc1111", "#2222dd"]}, "legend": null},
                    "shape": {"field": "s", "type": "nominal", "scale": {"domain": ["m3", "m5"], "range": ["circle", "square"]}, "legend": null}
                  }
                },
                {
                  "transform": [{"filter": "datum.x < 0"}],
                  "mark": {"type": "point", "filled": false, "strokeWidth": 0.9, "opacity": 0.7},
                  "encoding": {
                    "x": {"field": "x", "type": "quantitative"},
                    "y": {"field": "y", "type": "quantitative"},
                    "color": {"field": "s", "type": "nominal", "scale": {"domain": ["m3", "m5"], "range": ["#cc1111", "#2222dd"]},
                      "legend": {"title": null, "orient": "top-right", "offset": 1, "labelExpr": "'Park model_' + datum.label", "symbolSize": 49, "symbolStrokeWidth": 0.9, "symbolOpacity": 0.7, "labelOffset": 50, "labelFont": "Liberation Serif", "labelFontSize": 8, "labelColor": "#333", "padding": 5, "rowPadding": 0, "strokeColor": "#bbbbbb", "cornerRadius": 7, "fillColor": "white"}},
                    "shape": {"field": "s", "type": "nominal", "scale": {"domain": ["m3", "m5"], "range": ["M-1,0A1,1,0,1,1,1,0A1,1,0,1,1,-1,0M5,0A1,1,0,1,1,7,0A1,1,0,1,1,5,0M11.9,0A1,1,0,1,1,13.9,0A1,1,0,1,1,11.9,0", "M-1,-1H1V1H-1ZM5,-1H7V1H5ZM11.9,-1H13.9V1H11.9Z"]},
                      "legend": {"title": null, "orient": "top-right", "offset": 1, "labelExpr": "'Park model_' + datum.label", "symbolSize": 49, "symbolStrokeWidth": 0.9, "symbolOpacity": 0.7, "labelOffset": 50, "labelFont": "Liberation Serif", "labelFontSize": 8, "labelColor": "#333", "padding": 5, "rowPadding": 0, "strokeColor": "#bbbbbb", "cornerRadius": 7, "fillColor": "white"}}
                  }
                }
              ],
              "resolve": {"scale": {"color": "independent", "shape": "independent"}}
            }
          ]
        }
      ],
      "spacing": 102
    },
    {
      "hconcat": [
        {
          "title": {"text": "(c)", "anchor": "start", "font": "Liberation Serif", "fontSize": 19, "fontWeight": "bold", "color": "#000", "offset": -15, "dx": 22},
          "vconcat": [
            {
              "title": {"text": "Comparison of fatigue damage ratios for Dirlik model", "subtitle": "(Bi-modal spectra)", "anchor": "middle", "frame": "group", "font": "Liberation Serif", "fontSize": 10.5, "fontWeight": "bold", "color": "#000", "subtitleFont": "Liberation Serif", "subtitleFontSize": 10.5, "subtitleFontWeight": "bold", "subtitleColor": "#2b1fe6", "subtitlePadding": 1, "offset": 11},
              "width": 287, "height": 288,
              "data": {"name": "c"},
              "layer": [
                {
                  "mark": {"type": "point", "filled": false, "strokeWidth": 0.9, "opacity": 0.6, "size": 24},
                  "encoding": {
                    "x": {"field": "x", "type": "quantitative", "scale": {"domain": [0, 1], "nice": false, "zero": false},
                      "axis": {"values": [0,0.1,0.2,0.3,0.4,0.5,0.6,0.7,0.8,0.9,1], "labelExpr": "round(datum.value*10)%2==0 ? format(datum.value,'.1f') : ''", "tickSize": {"condition": {"test": "round(datum.value*10)%2==1", "value": 3}, "value": 5}, "grid": true, "gridOpacity": {"condition": {"test": "round(datum.value*10)%2==1", "value": 0}, "value": 1}, "labelPadding": 9, "labelFlush": false, "labelOverlap": false, "title": "Vanmarcke parameter (δ)", "titleFontSize": 10, "titlePadding": 4}},
                    "y": {"field": "y", "type": "quantitative", "scale": {"domain": [0.5, 1.5], "nice": false, "zero": false},
                      "axis": {"values": [0.5,0.625,0.75,0.875,1,1.125,1.25,1.375,1.5], "labelExpr": "round(datum.value*8)%2==0 ? format(datum.value,'.1f') : ''", "tickSize": {"condition": {"test": "round(datum.value*8)%2==1", "value": 3}, "value": 6}, "grid": true, "gridOpacity": {"condition": {"test": "round(datum.value*8)%2==1", "value": 0}, "value": 1}, "labelPadding": 5, "labelFlush": false, "labelOverlap": false, "title": null}},
                    "color": {"field": "s", "type": "nominal", "scale": {"domain": ["m3", "m5"], "range": ["#cc1111", "#2222dd"]}, "legend": null},
                    "shape": {"field": "s", "type": "nominal", "scale": {"domain": ["m3", "m5"], "range": ["circle", "square"]}, "legend": null}
                  }
                },
                {
                  "transform": [{"filter": "datum.x < 0"}],
                  "mark": {"type": "point", "filled": false, "strokeWidth": 0.9, "opacity": 0.7},
                  "encoding": {
                    "x": {"field": "x", "type": "quantitative"},
                    "y": {"field": "y", "type": "quantitative"},
                    "color": {"field": "s", "type": "nominal", "scale": {"domain": ["m3", "m5"], "range": ["#cc1111", "#2222dd"]},
                      "legend": {"title": null, "orient": "top-right", "offset": 1, "labelExpr": "'Dirlik model_' + datum.label", "symbolSize": 49, "symbolStrokeWidth": 0.9, "symbolOpacity": 0.7, "labelOffset": 50, "labelFont": "Liberation Serif", "labelFontSize": 8, "labelColor": "#333", "padding": 5, "rowPadding": 0, "strokeColor": "#bbbbbb", "cornerRadius": 7, "fillColor": "white"}},
                    "shape": {"field": "s", "type": "nominal", "scale": {"domain": ["m3", "m5"], "range": ["M-1,0A1,1,0,1,1,1,0A1,1,0,1,1,-1,0M5,0A1,1,0,1,1,7,0A1,1,0,1,1,5,0M11.9,0A1,1,0,1,1,13.9,0A1,1,0,1,1,11.9,0", "M-1,-1H1V1H-1ZM5,-1H7V1H5ZM11.9,-1H13.9V1H11.9Z"]},
                      "legend": {"title": null, "orient": "top-right", "offset": 1, "labelExpr": "'Dirlik model_' + datum.label", "symbolSize": 49, "symbolStrokeWidth": 0.9, "symbolOpacity": 0.7, "labelOffset": 50, "labelFont": "Liberation Serif", "labelFontSize": 8, "labelColor": "#333", "padding": 5, "rowPadding": 0, "strokeColor": "#bbbbbb", "cornerRadius": 7, "fillColor": "white"}}
                  }
                }
              ],
              "resolve": {"scale": {"color": "independent", "shape": "independent"}}
            }
          ]
        },
        {
          "title": {"text": "(d)", "anchor": "start", "font": "Liberation Serif", "fontSize": 19, "fontWeight": "bold", "color": "#000", "offset": -15},
          "vconcat": [
            {
              "title": {"text": "Comparison of fatigue damage ratios for Benasciutti model", "subtitle": "(Bi-modal spectra)", "anchor": "middle", "frame": "group", "font": "Liberation Serif", "fontSize": 10.5, "fontWeight": "bold", "color": "#000", "subtitleFont": "Liberation Serif", "subtitleFontSize": 10.5, "subtitleFontWeight": "bold", "subtitleColor": "#2b1fe6", "subtitlePadding": 1, "offset": 11},
              "width": 287, "height": 288,
              "data": {"name": "d"},
              "layer": [
                {
                  "mark": {"type": "point", "filled": false, "strokeWidth": 0.9, "opacity": 0.6, "size": 24},
                  "encoding": {
                    "x": {"field": "x", "type": "quantitative", "scale": {"domain": [0, 1], "nice": false, "zero": false},
                      "axis": {"values": [0,0.1,0.2,0.3,0.4,0.5,0.6,0.7,0.8,0.9,1], "labelExpr": "round(datum.value*10)%2==0 && datum.value < 0.95 ? format(datum.value,'.1f') : ''", "tickSize": {"condition": {"test": "round(datum.value*10)%2==1", "value": 3}, "value": 5}, "grid": true, "gridOpacity": {"condition": {"test": "round(datum.value*10)%2==1", "value": 0}, "value": 1}, "labelPadding": 9, "labelFlush": false, "labelOverlap": false, "title": "Vanmarcke parameter (δ)", "titleFontSize": 10, "titlePadding": 4}},
                    "y": {"field": "y", "type": "quantitative", "scale": {"domain": [0.5, 1.5], "nice": false, "zero": false},
                      "axis": {"values": [0.5,0.625,0.75,0.875,1,1.125,1.25,1.375,1.5], "labelExpr": "round(datum.value*8)%2==0 ? format(datum.value,'.1f') : ''", "tickSize": {"condition": {"test": "round(datum.value*8)%2==1", "value": 3}, "value": 6}, "grid": true, "gridOpacity": {"condition": {"test": "round(datum.value*8)%2==1", "value": 0}, "value": 1}, "labelPadding": 5, "labelFlush": false, "labelOverlap": false, "title": "Normalized damage ratio (D/Dₐᵣc)", "titleFontSize": 8, "titlePadding": 5}},
                    "color": {"field": "s", "type": "nominal", "scale": {"domain": ["m3", "m5"], "range": ["#cc1111", "#2222dd"]}, "legend": null},
                    "shape": {"field": "s", "type": "nominal", "scale": {"domain": ["m3", "m5"], "range": ["circle", "square"]}, "legend": null}
                  }
                },
                {
                  "transform": [{"filter": "datum.x < 0"}],
                  "mark": {"type": "point", "filled": false, "strokeWidth": 0.9, "opacity": 0.7},
                  "encoding": {
                    "x": {"field": "x", "type": "quantitative"},
                    "y": {"field": "y", "type": "quantitative"},
                    "color": {"field": "s", "type": "nominal", "scale": {"domain": ["m3", "m5"], "range": ["#cc1111", "#2222dd"]},
                      "legend": {"title": null, "orient": "top-right", "offset": 1, "labelExpr": "'Benasciutti model_' + datum.label", "symbolSize": 49, "symbolStrokeWidth": 0.9, "symbolOpacity": 0.7, "labelOffset": 50, "labelFont": "Liberation Serif", "labelFontSize": 8, "labelColor": "#333", "padding": 5, "rowPadding": 0, "strokeColor": "#bbbbbb", "cornerRadius": 7, "fillColor": "white"}},
                    "shape": {"field": "s", "type": "nominal", "scale": {"domain": ["m3", "m5"], "range": ["M-1,0A1,1,0,1,1,1,0A1,1,0,1,1,-1,0M5,0A1,1,0,1,1,7,0A1,1,0,1,1,5,0M11.9,0A1,1,0,1,1,13.9,0A1,1,0,1,1,11.9,0", "M-1,-1H1V1H-1ZM5,-1H7V1H5ZM11.9,-1H13.9V1H11.9Z"]},
                      "legend": {"title": null, "orient": "top-right", "offset": 1, "labelExpr": "'Benasciutti model_' + datum.label", "symbolSize": 49, "symbolStrokeWidth": 0.9, "symbolOpacity": 0.7, "labelOffset": 50, "labelFont": "Liberation Serif", "labelFontSize": 8, "labelColor": "#333", "padding": 5, "rowPadding": 0, "strokeColor": "#bbbbbb", "cornerRadius": 7, "fillColor": "white"}}
                  }
                }
              ],
              "resolve": {"scale": {"color": "independent", "shape": "independent"}}
            }
          ]
        }
      ],
      "spacing": 102
    }
  ],
  "spacing": 26,
  "config": {
    "view": {"stroke": null},
    "axis": {"domainColor": "#666", "tickColor": "#666", "labelFont": "Liberation Sans", "labelFontSize": 9, "labelColor": "#444", "titleFont": "Liberation Serif", "titleFontWeight": "bold", "titleColor": "#222", "gridColor": "#c4c4c4", "gridDash": [4, 4], "gridWidth": 0.8}
  }
}
